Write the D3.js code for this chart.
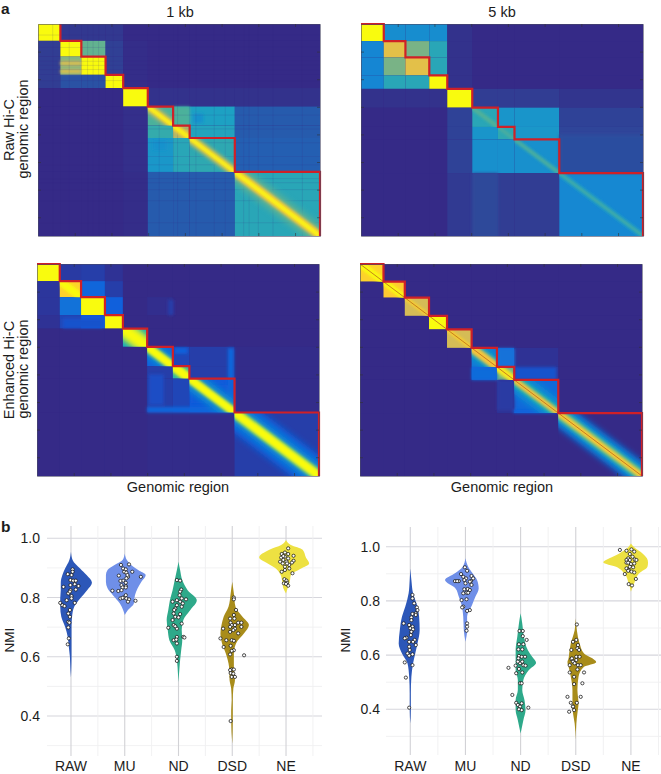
<!DOCTYPE html>
<html>
<head>
<meta charset="utf-8">
<script src="https://cdn.jsdelivr.net/npm/d3@7"></script>
<style>
  html, body { margin: 0; padding: 0; background: #fff; }
  svg { display: block; font-family: "Liberation Sans", Arial, sans-serif; fill: #1c1c1c; }
</style>
</head>
<body>
<svg id="chart" width="661" height="774"></svg>
<script>
// --- heat maps: TAD boundaries in bins, block intensity rows (0..1 of the colour map)
const binTicks = [100, 200, 300, 400, 500, 600, 700];
const genomeBins = 768;

const raw1kBounds = [0, 61, 118, 184, 232, 299, 368, 413, 536, 768];
const raw5kBounds = [0, 62, 121, 186, 235, 303, 373, 418, 540, 768];
const enh1kBounds = [0, 62, 120, 185, 234, 300, 370, 415, 538, 768];
const enh5kBounds = [0, 64, 122, 188, 237, 304, 373, 420, 540, 768];

const raw1kBlocks = [
  [1, .05, .05, .05, 0, 0, 0, 0, 0],
  [.07, 1, .56, .08, .01, 0, 0, 0, 0],
  [.07, .62, 1, .08, .01, 0, 0, 0, 0],
  [.07, .14, .14, 1, .01, 0, 0, 0, 0],
  [0, 0, 0, 0, 1, .03, .03, .03, .03],
  [0, 0, 0, 0, .02, .52, .46, .38, .16],
  [0, 0, 0, 0, .02, .46, .7, .4, .16],
  [0, 0, 0, 0, .02, .34, .42, .44, .17],
  [0, 0, 0, 0, .01, .16, .16, .16, .42]
];
const raw5kBlocks = [
  [1, .3, .3, .3, .03, 0, 0, 0, 0],
  [.27, .8, .6, .42, .03, 0, 0, 0, 0],
  [.27, .6, .8, .42, .03, 0, 0, 0, 0],
  [.27, .42, .42, 1, .03, 0, 0, 0, 0],
  [.03, .03, .03, .03, 1, .07, .07, .07, .04],
  [0, 0, 0, 0, .09, .42, .33, .33, .09],
  [0, 0, 0, 0, .09, .33, .44, .34, .1],
  [0, 0, 0, 0, .09, .31, .31, .31, .1],
  [0, 0, 0, 0, .06, .1, .07, .07, .28]
];
const enh1kBlocks = [
  [1, .04, .05, .02, 0, 0, 0, 0, 0],
  [.03, .9, .16, .05, 0, 0, 0, 0, 0],
  [.03, .2, 1, .14, 0, .01, 0, 0, 0],
  [.02, .07, .12, 1, 0, 0, 0, 0, 0],
  [0, 0, 0, 0, .4, 0, 0, 0, 0],
  [0, 0, 0, 0, 0, .15, .07, .05, .005],
  [0, 0, 0, 0, 0, .05, .5, .05, .005],
  [0, 0, 0, 0, 0, .05, .07, .12, .005],
  [0, 0, 0, 0, 0, .005, .005, .005, .05]
];
const enh5kBlocks = [
  [.9, 0, 0, 0, 0, 0, 0, 0, 0],
  [0, .88, 0, 0, 0, 0, 0, 0, 0],
  [0, 0, .76, 0, 0, 0, 0, 0, 0],
  [0, 0, 0, 1, 0, 0, 0, 0, 0],
  [0, 0, 0, 0, .76, 0, 0, 0, 0],
  [0, 0, 0, 0, 0, .22, .16, .02, 0],
  [0, 0, 0, 0, 0, .15, .6, .03, 0],
  [0, 0, 0, 0, 0, 0, .02, .17, 0],
  [0, 0, 0, 0, 0, 0, 0, 0, 0]
];

// diagonal bands: [tad index, intensity, half width in bins]
const raw1kBands = [
  [5, .62, 28], [5, .85, 14], [5, 1, 7],
  [6, .85, 16], [6, 1, 8],
  [7, .62, 26], [7, .85, 13], [7, 1, 7],
  [8, .55, 40], [8, .72, 22], [8, .88, 13], [8, 1, 8]
];
const raw5kBands = [
  [5, .5, 10], [5, .56, 4], [6, .56, 4], [7, .44, 10], [7, .56, 4],
  [8, .38, 12], [8, .55, 4]
];
const enh1kBands = [
  [1, 1, 18], [4, 1, 38],
  [5, .35, 34], [5, 1, 20], [6, 1, 22],
  [7, .3, 44], [7, 1, 20],
  [8, .14, 75], [8, .28, 46], [8, .55, 28], [8, 1, 20]
];
const enh5kBands = [
  [0, 1, 16], [1, 1, 14], [2, .9, 8], [4, .9, 8],
  [5, .4, 34], [5, .85, 20], [6, .95, 18],
  [7, .3, 50], [7, .45, 26], [7, .85, 14],
  [8, .18, 52], [8, .35, 36], [8, .55, 24], [8, .88, 14]
];

// extra patches of signal: [x from, x to, y from, y to, intensity] in bins
const raw1kPatches = [
  [423, 450, 324, 360, .32], [313, 350, 420, 457, .32], [368, 413, 300, 368, .52],
  [61, 118, 135, 150, .78], [61, 118, 165, 178, .8]
];
const raw5kPatches = [
  [303, 373, 540, 768, .11], [540, 768, 400, 540, .13]
];
const enh1kPatches = [
  [300, 536, 518, 538, .16], [520, 536, 305, 530, .16], [375, 410, 304, 325, .14],
  [357, 372, 130, 185, .05], [420, 515, 440, 505, .12], [305, 345, 400, 510, .09],
  [70, 180, 198, 232, .1]
];
const enh5kPatches = [
  [374, 421, 306, 372, .2], [304, 374, 375, 420, .18], [421, 535, 374, 418, .1],
  [374, 421, 420, 530, .04], [418, 538, 528, 540, .14]
];

// bins where raw coverage dips, seen as dark mesh lines
const raw1kMeshBins = [40, 85, 135, 150, 165, 205, 330, 380, 430, 480, 510, 560, 575, 600, 640, 720];

// --- violins
const categories = ["RAW", "MU", "ND", "DSD", "NE"];
const nmiTicks = [0.4, 0.6, 0.8, 1.0];
const nmiMinorTicks = [0.3, 0.5, 0.7, 0.9];

// outline rows: [NMI, left extent, right extent], extents in category widths
const outlineRaw1 = [[.955,0,0],[.927,-.03,.03],[.898,-.11,.17],[.876,-.16,.29],[.85,-.19,.39],[.825,-.19,.30],[.797,-.2,.17],[.769,-.2,.06],[.735,-.18,.02],[.701,-.11,.01],[.667,-.06,.01],[.633,-.04,.01],[.6,-.02,.01],[.555,-.01,0.005],[.53,0,0]];
const outlineMu1 = [[.949,0,0],[.927,-.04,.04],[.91,-.19,.12],[.893,-.32,.25],[.876,-.35,.39],[.853,-.35,.31],[.831,-.32,.24],[.808,-.22,.19],[.78,-.09,.17],[.758,-.03,.06],[.741,0,0]];
const outlineNd1 = [[.921,0,0],[.893,-.03,.03],[.859,-.07,.07],[.825,-.11,.17],[.791,-.16,.34],[.758,-.19,.22],[.724,-.22,.09],[.69,-.2,.06],[.656,-.17,.07],[.622,-.07,.05],[.588,-.03,.03],[.543,-.01,.01],[.515,0,0]];
const outlineDsd1 = [[.853,0,0],[.814,-.03,.03],[.769,-.07,.06],[.735,-.16,.19],[.707,-.2,.31],[.679,-.22,.22],[.645,-.19,.07],[.611,-.12,.03],[.566,-.06,.03],[.521,-.05,.05],[.493,-.02,.02],[.453,-.01,.01],[.419,-.02,.01],[.385,-.02,.01],[.306,0,0]];
const outlineNe1 = [[.994,0,0],[.977,-.09,.09],[.961,-.31,.31],[.935,-.5,.37],[.915,-.34,.43],[.898,-.19,.28],[.876,-.1,.09],[.853,-.07,.07],[.831,-.05,.03],[.814,0,0]];

const outlineRaw2 = [[.92,0,0],[.877,-.01,.02],[.828,-.03,.05],[.779,-.09,.13],[.742,-.15,.16],[.692,-.19,.17],[.643,-.21,.13],[.606,-.15,.09],[.569,-.05,.05],[.52,-.02,.02],[.459,-.01,.01],[.397,-.01,.01],[.348,0,0]];
const outlineMu2 = [[.957,0,0],[.926,-.05,.05],[.902,-.19,.13],[.877,-.37,.21],[.846,-.18,.24],[.815,-.12,.18],[.785,-.07,.12],[.742,-.04,.03],[.692,-.03,.03],[.649,0,0]];
const outlineNd2 = [[.754,0,0],[.717,-.03,.03],[.668,-.06,.06],[.619,-.09,.13],[.594,-.09,.21],[.572,-.09,.28],[.545,-.09,.15],[.508,-.05,.05],[.471,-.05,.03],[.434,-.09,.07],[.397,-.09,.09],[.36,-.05,.05],[.311,0,0]];
const outlineDsd2 = [[.736,0,0],[.692,-.02,.02],[.643,-.09,.07],[.606,-.12,.15],[.588,-.13,.3],[.574,-.15,.37],[.557,-.13,.15],[.52,-.09,.05],[.471,-.06,.03],[.422,-.06,.05],[.385,-.05,.03],[.348,-.02,.01],[.287,0,0]];
const outlineNe2 = [[1.012,0,0],[.994,-.07,.08],[.975,-.21,.21],[.957,-.39,.29],[.942,-.5,.31],[.926,-.27,.3],[.902,-.12,.15],[.871,-.05,.07],[.834,0,0]];

// sample rows: [jitter in category widths, NMI]
const samplesRaw1 = [[-.20,.782],[-.16,.774],[-.12,.771],[-.14,.836],[-.06,.879],[.03,.895],[.03,.887],[-.01,.859],[.04,.857],[.09,.857],[-.01,.842],[.07,.845],[.14,.839],[.09,.827],[-.01,.825],[-.05,.814],[.01,.805],[-.08,.791],[.01,.797],[.07,.782],[-.02,.758],[-.05,.746],[-.02,.735],[-.05,.718],[-.03,.715],[-.05,.699],[-.04,.662],[-.06,.642],[.01,.876],[-.02,.82]];
const samplesMu1 = [[-.07,.91],[-.03,.898],[.02,.895],[.08,.912],[-.01,.887],[.03,.884],[.14,.887],[-.11,.874],[.06,.87],[.30,.87],[.03,.865],[-.03,.857],[-.08,.856],[.02,.85],[-.06,.842],[.02,.839],[-.23,.823],[-.12,.822],[-.04,.834],[.02,.834],[-.02,.8],[-.08,.797],[.03,.797],[.08,.794],[.20,.789],[.06,.786],[.02,.808],[-.04,.799],[-.06,.825],[.05,.876]];
const samplesNd1 = [[-.03,.859],[.03,.857],[.05,.827],[.03,.82],[.14,.794],[-.11,.786],[-.03,.791],[.06,.797],[.03,.786],[.08,.78],[-.03,.774],[.06,.769],[-.06,.763],[-.09,.746],[.03,.744],[-.06,.735],[0,.733],[-.11,.724],[-.09,.707],[.06,.712],[-.19,.698],[-.03,.695],[-.06,.703],[-.03,.667],[-.09,.656],[-.04,.658],[.09,.667],[.11,.665],[-.03,.645],[-.03,.6],[-.03,.586],[-.08,.758],[.02,.808]];
const samplesDsd1 = [[.03,.8],[.03,.794],[.07,.758],[.03,.741],[-.04,.729],[.04,.729],[-.03,.715],[.11,.715],[.17,.715],[-.01,.707],[.05,.707],[.17,.701],[-.17,.695],[-.04,.701],[.05,.695],[-.04,.684],[.02,.69],[.11,.679],[-.22,.662],[-.11,.656],[-.01,.656],[.03,.654],[-.16,.633],[-.03,.637],[.03,.622],[-.01,.62],[-.04,.608],[.22,.605],[-.01,.557],[.03,.557],[-.03,.545],[.02,.543],[-.01,.532],[.05,.532],[-.03,.383],[-.04,.555]];
const samplesNe1 = [[.04,.966],[-.02,.952],[-.08,.947],[.04,.947],[.14,.941],[-.09,.935],[-.02,.938],[.04,.932],[-.05,.927],[-.11,.921],[.01,.921],[.14,.924],[-.06,.915],[.11,.918],[.06,.91],[-.02,.904],[.06,.898],[-.08,.887],[-.02,.893],[.12,.882],[-.03,.862],[.01,.857],[-.04,.848],[.02,.85],[.04,.84],[0,.846],[-.05,.94],[.02,.915]];

const samplesRaw2 = [[.04,.822],[.04,.809],[.07,.791],[.12,.776],[.13,.766],[.10,.754],[.04,.752],[.10,.748],[.02,.739],[-.12,.717],[.02,.729],[-.02,.711],[.04,.705],[0,.699],[.05,.695],[.02,.686],[-.07,.664],[-.10,.662],[.08,.656],[.05,.649],[-.02,.649],[.10,.637],[-.02,.631],[-.05,.606],[.04,.603],[-.02,.598],[-.10,.573],[.04,.563],[-.08,.517],[-.02,.406],[-.01,.619],[.01,.674]];
const samplesMu2 = [[-.01,.924],[.03,.911],[-.08,.899],[.11,.892],[-.04,.889],[.01,.883],[-.19,.873],[-.12,.873],[-.15,.873],[.10,.873],[-.02,.877],[0,.865],[.14,.883],[-.02,.843],[.08,.871],[.04,.844],[.08,.84],[.02,.83],[-.04,.828],[.11,.859],[-.07,.803],[.02,.806],[-.04,.779],[-.06,.776],[.08,.766],[.03,.763],[.03,.717],[.03,.705],[.02,.69],[.05,.83]];
const samplesNd2 = [[-.02,.689],[.04,.689],[.04,.67],[.11,.656],[-.03,.64],[.05,.64],[-.04,.621],[.03,.621],[-.03,.597],[.02,.594],[-.04,.588],[.08,.594],[-.22,.553],[-.09,.561],[-.01,.57],[.05,.563],[.09,.561],[-.08,.533],[.03,.536],[-.03,.549],[-.01,.496],[.02,.496],[-.15,.453],[-.08,.424],[.02,.422],[-.05,.416],[-.01,.41],[-.03,.4],[.02,.397],[.14,.406],[.03,.576],[-.05,.576]];
const samplesDsd2 = [[.02,.713],[-.05,.649],[.01,.656],[.04,.637],[.03,.625],[-.08,.619],[.06,.619],[.01,.594],[.07,.594],[-.08,.585],[-.05,.576],[.01,.582],[-.11,.563],[-.02,.57],[.04,.563],[.09,.563],[-.11,.536],[.03,.547],[.15,.536],[-.03,.52],[.12,.496],[-.03,.493],[-.15,.446],[.09,.446],[-.09,.424],[.02,.424],[-.05,.41],[-.12,.391],[-.03,.397],[-.05,.41],[-.07,.588]];
const samplesNe2 = [[-.20,.988],[-.08,.985],[.01,.99],[.06,.982],[-.02,.973],[.03,.963],[-.05,.957],[-.08,.951],[-.02,.951],[.07,.953],[.10,.951],[-.08,.941],[0,.936],[.06,.938],[-.08,.92],[-.02,.926],[.04,.924],[-.04,.914],[.01,.908],[.06,.905],[-.11,.899],[-.05,.911],[.09,.881],[-.04,.862],[.02,.857],[-.05,.941]];

const parulaStops = ["#352a87", "#0f5cdd", "#1481d6", "#06a4ca", "#2eb7a4", "#87bf77", "#d1bb59", "#fec832", "#f9fb0e"];
// raw maps are sparse at low signal, so the low end reads duller once the dots average out
const rawStops = ["#352a87", "#2d4c9d", "#1481d6", "#1ca0c4", "#3fb0a0", "#87b47f", "#d1bb59", "#fec832", "#f9fb0e"];
const violinColors = ["#2c57b8", "#6f8fe8", "#2ea98a", "#a88c1a", "#ede142"];

const svg = d3.select("#chart");
const defs = svg.append("defs");
const colorScale = stops => d3.scaleLinear()
  .domain(stops.map((d, i) => i / (stops.length - 1)))
  .range(stops)
  .clamp(true);
const parula = colorScale(parulaStops);
const parulaRaw = colorScale(rawStops);

function addBlur(id, size) {
  defs.append("filter").attr("id", id)
    .attr("x", "-30%").attr("y", "-30%").attr("width", "160%").attr("height", "160%")
    .append("feGaussianBlur").attr("stdDeviation", size);
}
addBlur("soft", 1.5);
addBlur("softBand", 1.4);
addBlur("wideBand", 3);

function drawHeatmap(o) {
  const x = d3.scaleLinear().domain([0, genomeBins]).range([o.left, o.left + 282]);
  const y = d3.scaleLinear().domain([0, genomeBins]).range([o.top, o.top + 212]);
  const color = o.color;
  const g = svg.append("g").attr("class", "heatmap");
  const b = o.bounds;

  defs.append("clipPath").attr("id", `${o.id}-panel`)
    .append("rect")
    .attr("x", x(0)).attr("y", y(0))
    .attr("width", x(genomeBins) - x(0)).attr("height", y(genomeBins) - y(0));

  g.append("rect")
    .attr("x", x(0)).attr("y", y(0))
    .attr("width", x(genomeBins) - x(0)).attr("height", y(genomeBins) - y(0))
    .attr("fill", color(0));

  // TAD blocks
  const cells = o.blocks.flatMap((row, r) => row.map((v, c) => ({ r, c, v })));
  g.selectAll(".block")
    .data(cells)
    .enter()
    .append("rect")
    .attr("class", "block")
    .attr("x", d => x(b[d.c]))
    .attr("y", d => y(b[d.r]))
    .attr("width", d => x(b[d.c + 1]) - x(b[d.c]))
    .attr("height", d => y(b[d.r + 1]) - y(b[d.r]))
    .attr("fill", d => color(d.v));

  // patches, kept inside the panel because the blur spreads them
  g.append("g").attr("clip-path", `url(#${o.id}-panel)`)
    .append("g").attr("filter", "url(#soft)")
    .selectAll("rect")
    .data(o.patches)
    .enter()
    .append("rect")
    .attr("x", d => x(d[0]))
    .attr("y", d => y(d[2]))
    .attr("width", d => x(d[1]) - x(d[0]))
    .attr("height", d => y(d[3]) - y(d[2]))
    .attr("fill", d => color(d[4]));

  // mesh
  if (o.mesh) {
    const mesh = g.append("g").attr("stroke", color(0)).attr("stroke-opacity", 0.18).attr("stroke-width", 0.7);
    mesh.selectAll(".v").data(o.mesh).enter().append("line").attr("class", "v")
      .attr("x1", d => x(d)).attr("x2", d => x(d)).attr("y1", y(0)).attr("y2", y(genomeBins));
    mesh.selectAll(".h").data(o.mesh).enter().append("line").attr("class", "h")
      .attr("y1", d => y(d)).attr("y2", d => y(d)).attr("x1", x(0)).attr("x2", x(genomeBins));
  }

  // diagonal bands, each cut to its TAD square
  o.bands.forEach((d, i) => {
    const [tad, value, half] = d;
    const clipId = `${o.id}-tad-${i}`;
    defs.append("clipPath").attr("id", clipId)
      .append("rect")
      .attr("x", x(b[tad])).attr("y", y(b[tad]))
      .attr("width", x(b[tad + 1]) - x(b[tad]))
      .attr("height", y(b[tad + 1]) - y(b[tad]));
    const lo = b[tad] - half, hi = b[tad + 1] + half;
    const corners = [[lo + half, lo], [hi + half, hi], [hi - half, hi], [lo - half, lo]];
    g.append("g").attr("clip-path", `url(#${clipId})`)
      .append("path")
      .attr("d", d3.line().x(p => x(p[0])).y(p => y(p[1]))(corners) + "Z")
      .attr("fill", color(value))
      .attr("filter", `url(#${half > 30 ? "wideBand" : "softBand"})`);
  });

  if (o.centerLine) {
    g.append("line")
      .attr("x1", x(0)).attr("y1", y(0)).attr("x2", x(genomeBins)).attr("y2", y(genomeBins))
      .attr("stroke", "#bf7420").attr("stroke-width", 0.9);
  }

  // red staircase along the upper right of the TADs
  const stairs = o.openTop ? [[b[1], 0]] : [[0, 0], [b[1], 0]];
  b.slice(1).forEach((v, i) => {
    stairs.push([v, v]);
    if (i < b.length - 2) stairs.push([b[i + 2], v]);
  });
  g.append("path")
    .attr("d", d3.line().x(p => x(p[0])).y(p => y(p[1]))(stairs))
    .attr("fill", "none")
    .attr("stroke", "#cf2027")
    .attr("stroke-width", 2.2);

  // frame and inward ticks
  const frame = g.append("g").attr("class", "frame");
  const axes = [
    [d3.axisBottom(x).tickSize(-3), `translate(0,${y(genomeBins)})`],
    [d3.axisTop(x).tickSize(-3), `translate(0,${y(0)})`],
    [d3.axisLeft(y).tickSize(-3), `translate(${x(0)},0)`],
    [d3.axisRight(y).tickSize(-3), `translate(${x(genomeBins)},0)`]
  ];
  axes.forEach(([axis, t]) => {
    const a = frame.append("g").attr("transform", t)
      .call(axis.tickValues(binTicks).tickSizeOuter(0).tickFormat(""));
    a.select(".domain").attr("stroke", "#4a4a66").attr("stroke-width", 0.6);
    a.selectAll(".tick line").attr("stroke", "#333").attr("stroke-width", 0.6);
  });
}

function drawViolins(o) {
  const x = d3.scaleBand().domain(categories).range(o.xRange);
  const y = d3.scaleLinear().domain([1, 0.4]).range(o.yRange);
  const step = x.step();
  const center = c => x(c) + step / 2;
  const g = svg.append("g").attr("class", "violins");
  const top = o.gridTop, bottom = o.gridBottom;

  // grid
  const hLines = nmiMinorTicks.map(v => ({ v, major: false })).concat(nmiTicks.map(v => ({ v, major: true })));
  g.selectAll(".hgrid")
    .data(hLines)
    .enter()
    .append("line")
    .attr("class", "hgrid")
    .attr("x1", o.gridLeft).attr("x2", o.gridRight)
    .attr("y1", d => y(d.v)).attr("y2", d => y(d.v))
    .attr("stroke", d => d.major ? "#d6d6dc" : "#efeff1")
    .attr("stroke-width", d => d.major ? 1.1 : 0.9);

  g.selectAll(".vminor")
    .data(categories)
    .enter()
    .append("line")
    .attr("class", "vminor")
    .attr("x1", d => x(d) + step).attr("x2", d => x(d) + step)
    .attr("y1", top).attr("y2", bottom)
    .attr("stroke", "#efeff1").attr("stroke-width", 0.9);

  g.selectAll(".vmajor")
    .data(categories)
    .enter()
    .append("line")
    .attr("class", "vmajor")
    .attr("x1", center).attr("x2", center)
    .attr("y1", top).attr("y2", bottom)
    .attr("stroke", "#d2d2d6").attr("stroke-width", 1.1);

  // axes
  const yAxis = g.append("g")
    .attr("transform", `translate(${o.labelRight},0)`)
    .call(d3.axisLeft(y).tickValues(nmiTicks).tickSize(0).tickPadding(0).tickFormat(d3.format(".1f")));
  yAxis.select(".domain").remove();
  yAxis.selectAll("text").attr("font-size", 14).attr("font-family", "Liberation Sans").attr("fill", "#1c1c1c");

  const xAxis = g.append("g")
    .attr("transform", "translate(0,758)")
    .call(d3.axisBottom(x).tickSize(0).tickPadding(3));
  xAxis.select(".domain").remove();
  xAxis.selectAll("text").attr("font-size", 14).attr("font-family", "Liberation Sans").attr("fill", "#1c1c1c");

  // violin bodies
  const area = d3.area()
    .curve(d3.curveMonotoneY)
    .y(d => y(d[0]));
  categories.forEach((c, i) => {
    g.append("path")
      .attr("d", area
        .x0(d => center(c) + d[1] * step)
        .x1(d => center(c) + d[2] * step)(o.outlines[i]))
      .attr("fill", violinColors[i]);
  });

  // samples
  categories.forEach((c, i) => {
    g.selectAll(`.dot-${c}`)
      .data(o.samples[i])
      .enter()
      .append("circle")
      .attr("class", `dot-${c}`)
      .attr("cx", d => center(c) + d[0] * step)
      .attr("cy", d => y(d[1]))
      .attr("r", 1.6)
      .attr("fill", "#fff")
      .attr("stroke", "#111")
      .attr("stroke-width", 0.75);
  });

  svg.append("text")
    .attr("transform", `translate(${o.nmiX},640) rotate(-90)`)
    .attr("text-anchor", "middle")
    .attr("font-size", 13.5)
    .text("NMI");
}

drawHeatmap({ id: "raw1k", left: 38, top: 24, color: parulaRaw, bounds: raw1kBounds, blocks: raw1kBlocks, bands: raw1kBands, patches: raw1kPatches, mesh: raw1kMeshBins, openTop: true });
drawHeatmap({ id: "raw5k", left: 361, top: 24, color: parulaRaw, bounds: raw5kBounds, blocks: raw5kBlocks, bands: raw5kBands, patches: raw5kPatches });
drawHeatmap({ id: "enh1k", left: 37, top: 264, color: parula, bounds: enh1kBounds, blocks: enh1kBlocks, bands: enh1kBands, patches: enh1kPatches });
drawHeatmap({ id: "enh5k", left: 360, top: 264, color: parula, bounds: enh5kBounds, blocks: enh5kBlocks, bands: enh5kBands, patches: enh5kPatches, centerLine: true });

drawViolins({
  xRange: [44.1, 312.9], yRange: [538.3, 716],
  gridLeft: 47, gridRight: 322, gridTop: 526, gridBottom: 756,
  labelRight: 40, nmiX: 13.5,
  outlines: [outlineRaw1, outlineMu1, outlineNd1, outlineDsd1, outlineNe1],
  samples: [samplesRaw1, samplesMu1, samplesNd1, samplesDsd1, samplesNe1]
});
drawViolins({
  xRange: [382.7, 658.5], yRange: [546.7, 709.3],
  gridLeft: 386, gridRight: 661, gridTop: 527, gridBottom: 755,
  labelRight: 380, nmiX: 350,
  outlines: [outlineRaw2, outlineMu2, outlineNd2, outlineDsd2, outlineNe2],
  samples: [samplesRaw2, samplesMu2, samplesNd2, samplesDsd2, samplesNe2]
});

// panel letters and titles
const label = (txt, px, py, size, opts = {}) => svg.append("text")
  .attr("transform", `translate(${px},${py}) rotate(${opts.rotate || 0})`)
  .attr("text-anchor", opts.anchor || "middle")
  .attr("font-size", size)
  .attr("font-weight", opts.weight || "normal")
  .text(txt);

label("a", 1, 14, 15.5, { anchor: "start", weight: "bold" });
label("b", 1, 532, 15.5, { anchor: "start", weight: "bold" });
label("1 kb", 180, 17, 14.5);
label("5 kb", 502, 17, 14.5);
label("Raw Hi-C", 13.5, 130, 14.5, { rotate: -90 });
label("genomic region", 28, 129, 14.5, { rotate: -90 });
label("Enhanced Hi-C", 13.5, 370, 14.5, { rotate: -90 });
label("genomic region", 28, 369, 14.5, { rotate: -90 });
label("Genomic region", 178, 492, 14.5);
label("Genomic region", 502, 492, 14.5);
</script>
</body>
</html>
